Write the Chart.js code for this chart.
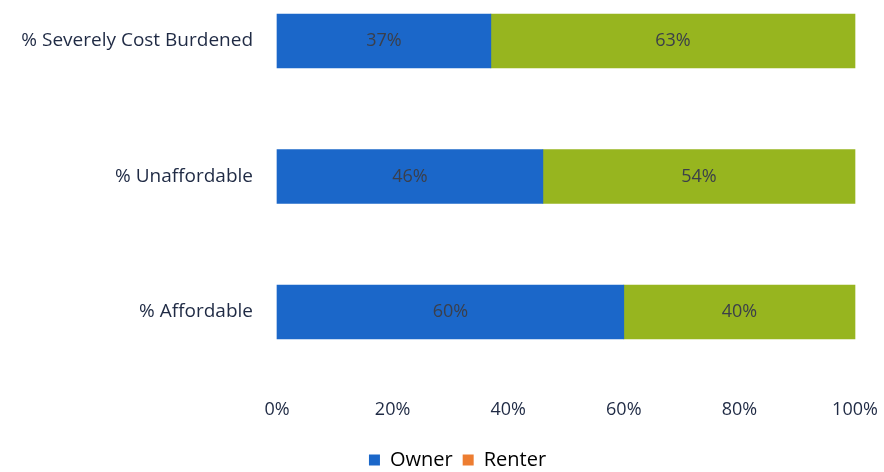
<!DOCTYPE html>
<html>
<head>
<meta charset="utf-8">
<script src="https://cdn.jsdelivr.net/npm/chart.js@4/dist/chart.umd.min.js"></script>
<style>
  html, body { margin: 0; padding: 0; background: #fff; overflow: hidden; }
  canvas { display: block; }
</style>
</head>
<body>
<canvas id="chart" width="884" height="472"></canvas>
<script>
const categories = ['% Severely Cost Burdened', '% Unaffordable', '% Affordable'];
const owner = [37, 46, 60];
const renter = [63, 54, 40];
const xTicks = [0, 20, 40, 60, 80, 100];

const textColor = '#1f2a44';
const font = '"Open Sans", sans-serif';

// draws the percentage in the middle of each bar
const barLabels = {
  id: 'barLabels',
  afterDatasetsDraw(chart) {
    const ctx = chart.ctx;
    ctx.save();
    ctx.font = '18px ' + font;
    ctx.fillStyle = '#3b3f4a';
    ctx.textAlign = 'center';
    ctx.textBaseline = 'middle';
    chart.data.datasets.forEach((ds, i) => {
      chart.getDatasetMeta(i).data.forEach((bar, j) => {
        const p = bar.getProps(['x', 'y', 'base'], true);
        ctx.fillText(ds.data[j] + '%', (p.x + p.base) / 2, p.y);
      });
    });
    ctx.restore();
  }
};

// nudge the legend a little right and down, like the source
const legendShift = {
  id: 'legendShift',
  afterLayout(chart) {
    const lg = chart.legend;
    lg.left += 30; lg.right += 30;
    lg.top += 8; lg.bottom += 8;
  }
};

new Chart(document.getElementById('chart'), {
  type: 'bar',
  data: {
    labels: categories,
    datasets: [
      { label: 'Owner', data: owner, backgroundColor: '#1b67c9', barThickness: 54, clip: false },
      { label: 'Renter', data: renter, backgroundColor: '#97b51f', barThickness: 54, clip: false },
    ],
  },
  options: {
    indexAxis: 'y',
    responsive: false,
    animation: false,
    layout: { padding: { top: 41, right: 29, bottom: 0, left: 0 } },
    plugins: {
      tooltip: { enabled: false },
      legend: {
        position: 'bottom',
        labels: {
          font: { size: 20, family: font },
          color: textColor,
          boxWidth: 11,
          boxHeight: 11,
          padding: 10,
          generateLabels(chart) {
            // the legend swatch for Renter is orange in the source
            const swatches = ['#1b67c9', '#ed7d31'];
            return chart.data.datasets.map((ds, i) => ({
              text: ds.label,
              fillStyle: swatches[i],
              strokeStyle: swatches[i],
              lineWidth: 0,
              datasetIndex: i,
            }));
          },
        },
      },
    },
    scales: {
      x: {
        stacked: true,
        min: xTicks[0],
        max: xTicks[xTicks.length - 1],
        grid: { display: false },
        border: { display: false },
        afterBuildTicks(scale) {
          scale.ticks = xTicks.map(v => ({ value: v }));
        },
        afterFit(scale) {
          scale.height = 120;
          scale.paddingLeft = 0;
          scale.paddingRight = 0;
        },
        ticks: {
          padding: 79,
          maxRotation: 0,
          autoSkip: false,
          color: textColor,
          font: { size: 18, family: font },
          callback: v => v + '%',
        },
      },
      y: {
        stacked: true,
        offset: false,
        grid: { display: false },
        border: { display: false },
        afterFit(scale) { scale.width = 277; },
        ticks: {
          padding: 16,
          color: textColor,
          font: { size: 19, family: font },
        },
      },
    },
  },
  plugins: [barLabels, legendShift],
});
</script>
</body>
</html>
